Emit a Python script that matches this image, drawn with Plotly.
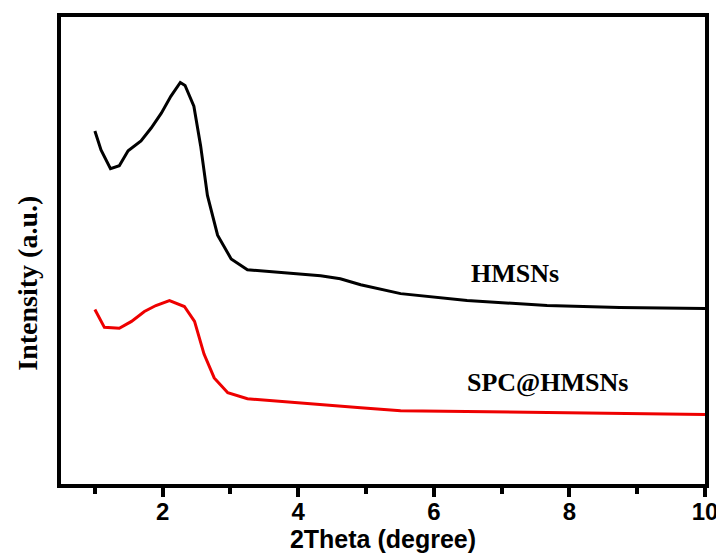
import plotly.graph_objects as go

# HMSNs (black)
hm_x = [1.00, 1.09, 1.23, 1.36, 1.49, 1.68, 1.83, 1.98, 2.12, 2.26, 2.33, 2.46, 2.56, 2.66,
        2.81, 3.01, 3.25, 3.59, 3.93, 4.33, 4.62, 4.92, 5.51, 6.49, 7.67, 8.74, 10.0]
hm_y = [356, 337, 318, 321, 336, 346, 359, 374, 391, 405, 402, 381, 341, 291,
        251, 227, 216, 214, 212, 210, 207, 201, 192, 185, 180, 178, 177]

# SPC@HMSNs (red)
spc_x = [1.00, 1.14, 1.36, 1.54, 1.73, 1.90, 2.10, 2.32, 2.47, 2.61, 2.76, 2.96, 3.25,
         3.94, 4.92, 5.51, 7.71, 10.0]
spc_y = [176, 158, 157, 164, 174, 180, 185, 179, 164, 131, 107, 92, 86,
         82, 77, 74, 72, 70]

x_ticks = [2, 4, 6, 8, 10]

fig = go.Figure()
fig.add_trace(go.Scatter(x=hm_x, y=hm_y, mode="lines", name="HMSNs",
                         line=dict(color="black", width=3)))
fig.add_trace(go.Scatter(x=spc_x, y=spc_y, mode="lines", name="SPC@HMSNs",
                         line=dict(color="#ee0000", width=3)))

serif = "Liberation Serif, Times New Roman, serif"
sans = "Liberation Sans, Arial, sans-serif"

fig.add_annotation(x=7.2, y=212, xref="x", yref="y", text="HMSNs", showarrow=False,
                   xanchor="center", yanchor="middle",
                   font=dict(family=serif, size=26, color="black", weight=700))
fig.add_annotation(x=7.67, y=102, xref="x", yref="y", text="SPC@HMSNs", showarrow=False,
                   xanchor="center", yanchor="middle",
                   font=dict(family=serif, size=26, color="black", weight=700))
fig.add_annotation(x=-0.052, y=0.43, xref="paper", yref="paper", text="Intensity (a.u.)",
                   textangle=-90, showarrow=False, xanchor="center", yanchor="middle",
                   font=dict(family=serif, size=28, color="black", weight=700))

# page body has an 8px margin on top/left, so the figure is 8px smaller
fig.update_layout(
    width=716, height=550,
    margin=dict(l=53, r=19, t=5, b=74),
    paper_bgcolor="white", plot_bgcolor="white",
    showlegend=False,
    xaxis=dict(range=[0.5, 10], tickvals=x_ticks, ticktext=[str(v) for v in x_ticks],
               ticks="outside", ticklen=9, tickwidth=3.5, tickcolor="black",
               ticklabelstandoff=-6,
               minor=dict(tickvals=[1, 3, 5, 7, 9], ticks="outside", ticklen=6,
                          tickwidth=3.5, tickcolor="black"),
               showline=True, linewidth=4, linecolor="black", mirror=True,
               showgrid=False, zeroline=False,
               tickfont=dict(family=sans, size=24, color="black", weight=700),
               title=dict(text="2Theta (degree)", standoff=0,
                          font=dict(family=sans, size=25, color="black", weight=700))),
    yaxis=dict(range=[0, 471], showticklabels=False, ticks="",
               showline=True, linewidth=4, linecolor="black", mirror=True,
               showgrid=False, zeroline=False),
)

fig.write_html("out.html")
